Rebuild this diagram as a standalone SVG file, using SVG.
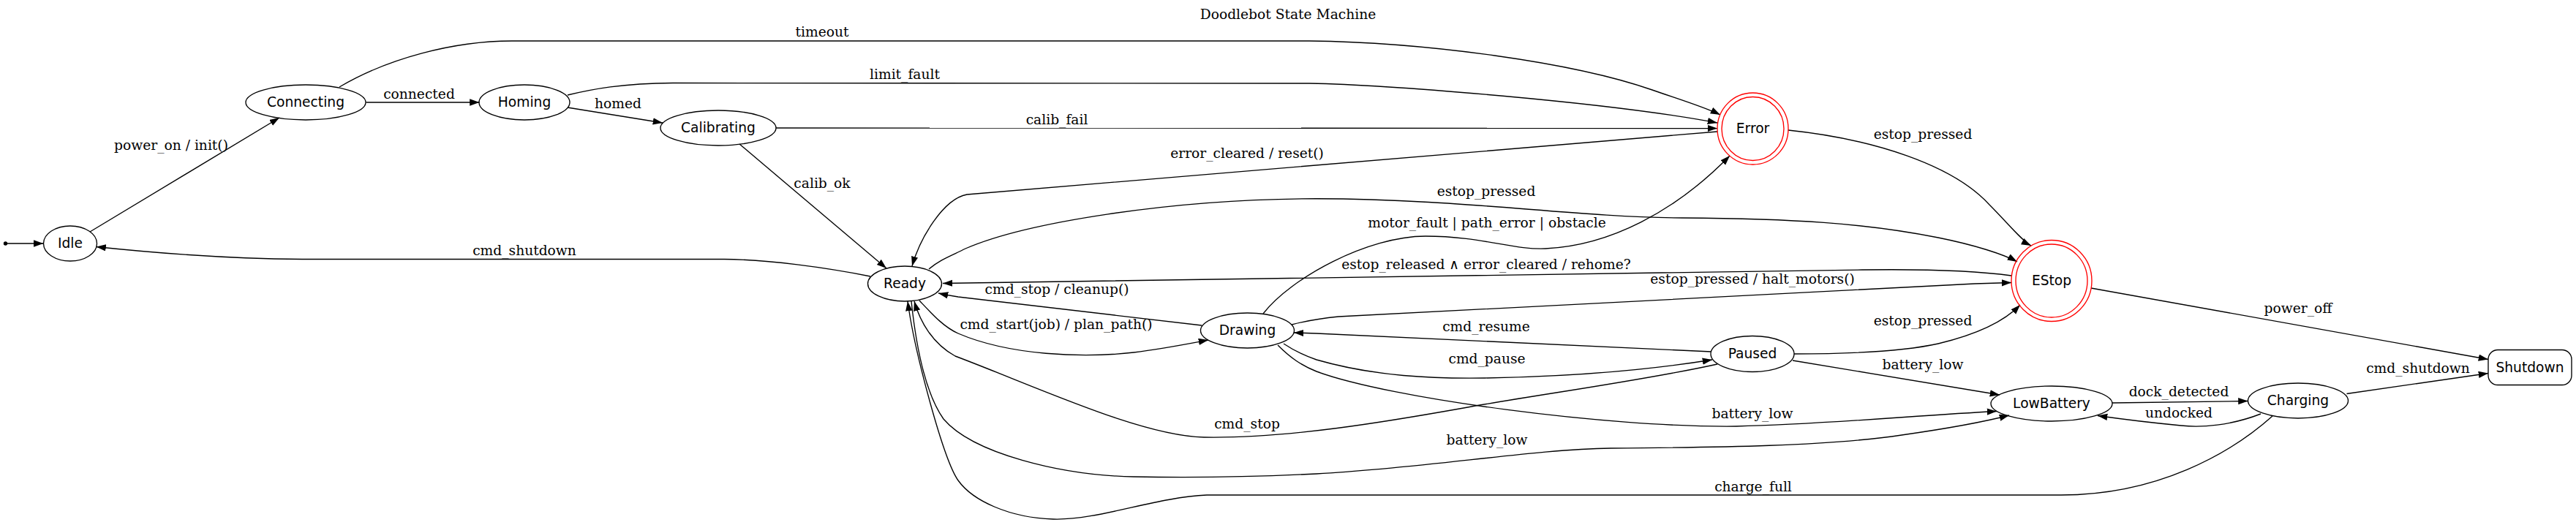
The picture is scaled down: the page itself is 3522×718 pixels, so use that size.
<svg xmlns="http://www.w3.org/2000/svg" width="3522" height="718" viewBox="0 0 3522 718">
<style>
.e{fill:none;stroke:#000;stroke-width:1.35;marker-end:url(#arr)}
.n{fill:none;stroke:#000;stroke-width:1.35}
.r{fill:none;stroke:#ff0000;stroke-width:1.35}
.nt{font-family:"DejaVu Sans",sans-serif;font-size:18.67px;text-anchor:middle;fill:#000}
.lt{font-family:"DejaVu Serif",serif;font-size:18.67px;text-anchor:middle;fill:#000}
</style>
<defs>
<marker id="arr" markerUnits="userSpaceOnUse" markerWidth="14" markerHeight="10" refX="13.3" refY="4.67" orient="auto" viewBox="0 0 14 10">
<path d="M0,0 L13.3,4.67 L0,9.33 z" fill="#000"/>
</marker>
</defs>
<rect width="3522" height="718" fill="#fff"/>
<text class="lt" x="1761" y="26">Doodlebot State Machine</text>

<g id="edges">
<path class="e" d="M9.5,333 L59.3,333"/>
<g><path class="e" d="M123,317 L382,161"/><text class="lt" x="234" y="205">power_on / init()</text></g>
<g><path class="e" d="M500.5,140 L655.5,140"/><text class="lt" x="573" y="135">connected</text></g>
<g><path class="e" d="M776,147 L906,168"/><text class="lt" x="845" y="148">homed</text></g>
<g><path class="e" d="M464,119 C530,80 620,56 700,56 L1790,56 C1950,58 2150,85 2259,123 C2290,134 2330,146 2352,157"/><text class="lt" x="1124" y="50">timeout</text></g>
<g><path class="e" d="M776,130 C810,122 850,114 920,113.5 L1790,114 C1900,116 2200,140 2348,168"/><text class="lt" x="1237" y="108">limit_fault</text></g>
<g><path class="e" d="M1061,175 L2348,175.5"/><text class="lt" x="1445" y="170">calib_fail</text></g>
<g><path class="e" d="M2348,180 L1322,266 C1290,272 1258,325 1247,364"/><text class="lt" x="1705" y="216">error_cleared / reset()</text></g>
<g><path class="e" d="M1011,197 L1212,367"/><text class="lt" x="1124" y="257">calib_ok</text></g>
<g><path class="e" d="M1190,378 C1130,366 1050,355 990,354.5 L413,354.5 C340,354 250,350 131.5,337.5"/><text class="lt" x="717" y="349">cmd_shutdown</text></g>
<g><path class="e" d="M1270,368 C1285,355 1300,350 1320,340 C1400,305 1600,272 1800,271.7 C2000,272 2150,297 2300,298 C2450,299 2550,305 2650,325 C2700,335 2740,348 2758,358"/><text class="lt" x="2032" y="268">estop_pressed</text></g>
<g><path class="e" d="M2445,178 C2560,190 2670,225 2720,280 C2745,305 2765,330 2777,336"/><text class="lt" x="2629" y="190">estop_pressed</text></g>
<g><path class="e" d="M1727,429 C1765,380 1870,323 1949,323 C2025,323 2070,342 2113,340 C2200,336 2290,290 2365,213"/><text class="lt" x="2033" y="311">motor_fault | path_error | obstacle</text></g>
<g><path class="e" d="M2750,377 C2700,370 2620,368 2546,369 L1289,387.5"/><text class="lt" x="2032" y="368">estop_released ∧ error_cleared / rehome?</text></g>
<g><path class="e" d="M1766,444 C1785,439 1800,436 1830,433 L2700,388 L2750,386.5"/><text class="lt" x="2396" y="388">estop_pressed / halt_motors()</text></g>
<g><path class="e" d="M1643,445 L1310,406 C1300,404.5 1292,403 1283,401"/><text class="lt" x="1445" y="402">cmd_stop / cleanup()</text></g>
<g><path class="e" d="M1257,411 C1275,430 1290,447 1310,456 C1380,486 1480,490 1550,482 C1590,477 1620,471 1652,465"/><text class="lt" x="1444" y="450">cmd_start(job) / plan_path()</text></g>
<g><path class="e" d="M2340,481 L1800,456 L1769,455"/><text class="lt" x="2032" y="453">cmd_resume</text></g>
<g><path class="e" d="M1755,470 C1770,480 1785,487 1800,492 C1880,515 1960,518 2030,517 C2150,515 2260,505 2341,492"/><text class="lt" x="2033" y="497">cmd_pause</text></g>
<g><path class="e" d="M2348,498 C2250,520 2100,540 2001,558 C1900,576 1760,600 1646,598 C1560,596 1420,530 1306,487 C1275,470 1258,440 1250,412"/><text class="lt" x="1705" y="586">cmd_stop</text></g>
<g><path class="e" d="M1747,472 C1765,490 1780,500 1800,508 C1900,545 2200,585 2374,583 C2500,580 2620,568 2730,562.5"/><text class="lt" x="2396" y="572">battery_low</text></g>
<g><path class="e" d="M1246,412 C1250,450 1260,530 1290,573 C1330,620 1450,650 1550,652 C1650,654 1720,652 1800,648 C1950,640 2100,614 2202,613 C2350,612 2500,610 2600,595 C2670,585 2720,575 2747,568"/><text class="lt" x="2033" y="608">battery_low</text></g>
<g><path class="e" d="M3107,569 C3050,620 2950,677 2818,677 L1650,677 C1580,680 1500,712 1440,710 C1380,708 1330,685 1310,657 C1290,629 1250,480 1241,412"/><text class="lt" x="2397" y="672">charge_full</text></g>
<g><path class="e" d="M2453,484 C2520,484 2600,481 2650,470 C2700,458 2740,440 2762,417"/><text class="lt" x="2629" y="445">estop_pressed</text></g>
<g><path class="e" d="M2451,493 L2734,540"/><text class="lt" x="2629" y="505">battery_low</text></g>
<g><path class="e" d="M2859,394 L3402,491.5"/><text class="lt" x="3142" y="428">power_off</text></g>
<g><path class="e" d="M2888,551 L3073.5,548.5"/><text class="lt" x="2979" y="542">dock_detected</text></g>
<g><path class="e" d="M3091,566 C3050,582 3010,585 2982,582 C2940,578 2900,573 2868,568.5"/><text class="lt" x="2979" y="571">undocked</text></g>
<g><path class="e" d="M3208.5,538.5 L3402,510.5"/><text class="lt" x="3306" y="510">cmd_shutdown</text></g>
</g>

<g id="node-init"><circle cx="7.5" cy="333" r="2.7" fill="#000"/></g>
<g id="node-Idle"><ellipse class="n" cx="96" cy="333" rx="36.5" ry="24"/><text class="nt" x="96" y="339">Idle</text></g>
<g id="node-Connecting"><ellipse class="n" cx="418" cy="140" rx="82" ry="24"/><text class="nt" x="418" y="146">Connecting</text></g>
<g id="node-Homing"><ellipse class="n" cx="717" cy="140" rx="62" ry="24"/><text class="nt" x="717" y="146">Homing</text></g>
<g id="node-Calibrating"><ellipse class="n" cx="982" cy="175" rx="79" ry="24"/><text class="nt" x="982" y="181">Calibrating</text></g>
<g id="node-Error"><ellipse class="r" cx="2396.5" cy="176" rx="48.5" ry="49"/><ellipse class="r" cx="2396.5" cy="176" rx="42.5" ry="43.5"/><text class="nt" x="2396.5" y="182">Error</text></g>
<g id="node-Ready"><ellipse class="n" cx="1237" cy="388" rx="50.5" ry="24"/><text class="nt" x="1237" y="394">Ready</text></g>
<g id="node-EStop"><ellipse class="r" cx="2805" cy="384" rx="55" ry="55.5"/><ellipse class="r" cx="2805" cy="384" rx="49" ry="50"/><text class="nt" x="2805" y="390">EStop</text></g>
<g id="node-Drawing"><ellipse class="n" cx="1705.5" cy="452" rx="64" ry="24"/><text class="nt" x="1705.5" y="458">Drawing</text></g>
<g id="node-Paused"><ellipse class="n" cx="2396" cy="484" rx="57" ry="24.5"/><text class="nt" x="2396" y="490">Paused</text></g>
<g id="node-LowBattery"><ellipse class="n" cx="2805" cy="552" rx="83" ry="24"/><text class="nt" x="2805" y="558">LowBattery</text></g>
<g id="node-Charging"><ellipse class="n" cx="3142" cy="548" rx="68.5" ry="24"/><text class="nt" x="3142" y="554">Charging</text></g>
<g id="node-Shutdown"><rect class="n" x="3402" y="478.5" width="114" height="48" rx="13" ry="13"/><text class="nt" x="3459" y="508.5">Shutdown</text></g>
</svg>
